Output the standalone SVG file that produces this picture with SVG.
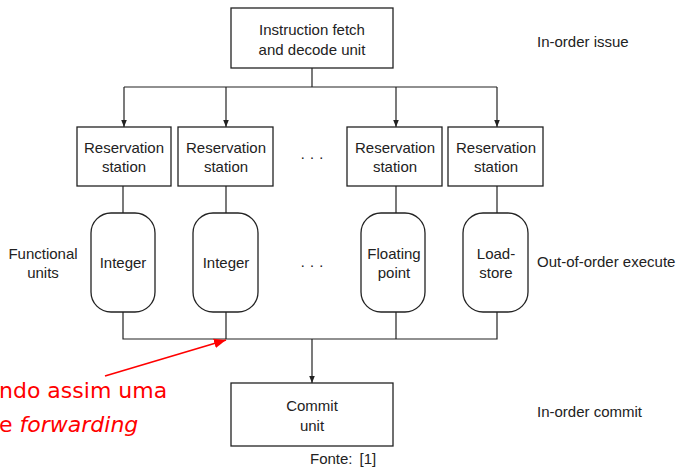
<svg xmlns="http://www.w3.org/2000/svg" width="684" height="467" viewBox="0 0 684 467">
  <style>
    .box { fill: #fff; stroke: #222; stroke-width: 1.3; }
    .wire { fill: none; stroke: #222; stroke-width: 1.2; }
    .t { font-family: "Liberation Sans", Arial, sans-serif; font-size: 15px; fill: #222; text-anchor: middle; }
    .lbl { font-family: "Liberation Sans", Arial, sans-serif; font-size: 15px; fill: #222; }
    .red { font-family: "DejaVu Sans", "Liberation Sans", sans-serif; font-size: 22px; fill: #f00; }
  </style>
  <defs>
    <marker id="arr" viewBox="0 0 10 10" refX="10" refY="5" markerWidth="7" markerHeight="7" orient="auto" markerUnits="userSpaceOnUse">
      <path d="M0,1 L10,5 L0,9 z" fill="#222"/>
    </marker>
    <marker id="arrRed" viewBox="0 0 10 10" refX="10" refY="5" markerWidth="12" markerHeight="12" orient="auto" markerUnits="userSpaceOnUse">
      <path d="M0,1 L10,5 L0,9 z" fill="#f00"/>
    </marker>
  </defs>
  <rect width="684" height="467" fill="#fff"/>

  <g id="connectors">
    <path class="wire" d="M312,68 V87 M124,87 H497"/>
    <path class="wire" d="M124,87 V127" marker-end="url(#arr)"/>
    <path class="wire" d="M226,87 V127" marker-end="url(#arr)"/>
    <path class="wire" d="M396,87 V127" marker-end="url(#arr)"/>
    <path class="wire" d="M497,87 V127" marker-end="url(#arr)"/>
    <path class="wire" d="M123,186 V213 M226,186 V213 M396,186 V213 M497,186 V213"/>
    <path class="wire" d="M123,312 V339 H497 V312 M226,312 V339 M396,312 V339"/>
    <path class="wire" d="M312,339 V383" marker-end="url(#arr)"/>
    <path d="M105,376 L226,340" stroke="#f00" stroke-width="1.7" fill="none" marker-end="url(#arrRed)"/>
  </g>

  <g id="fetch">
    <rect class="box" x="231" y="8" width="162" height="60"/>
    <text class="t" x="312" y="35">Instruction fetch</text>
    <text class="t" x="312" y="55">and decode unit</text>
  </g>

  <g id="rs1">
    <rect class="box" x="77" y="127" width="94" height="59"/>
    <text class="t" x="124" y="153">Reservation</text>
    <text class="t" x="124" y="172">station</text>
  </g>
  <g id="rs2">
    <rect class="box" x="178" y="127" width="95" height="59"/>
    <text class="t" x="226" y="153">Reservation</text>
    <text class="t" x="226" y="172">station</text>
  </g>
  <g id="rs3">
    <rect class="box" x="347" y="127" width="95" height="59"/>
    <text class="t" x="395" y="153">Reservation</text>
    <text class="t" x="395" y="172">station</text>
  </g>
  <g id="rs4">
    <rect class="box" x="448" y="127" width="95" height="59"/>
    <text class="t" x="496" y="153">Reservation</text>
    <text class="t" x="496" y="172">station</text>
  </g>
  <text class="t" x="312" y="162">· · ·</text>

  <g id="fu1">
    <rect class="box" x="91" y="213" width="64" height="99" rx="20" ry="20"/>
    <text class="t" x="123" y="268">Integer</text>
  </g>
  <g id="fu2">
    <rect class="box" x="193" y="213" width="65" height="99" rx="20" ry="20"/>
    <text class="t" x="226" y="268">Integer</text>
  </g>
  <g id="fu3">
    <rect class="box" x="361" y="213" width="64" height="99" rx="20" ry="20"/>
    <text class="t" x="394" y="259">Floating</text>
    <text class="t" x="394" y="278">point</text>
  </g>
  <g id="fu4">
    <rect class="box" x="463" y="213" width="65" height="99" rx="20" ry="20"/>
    <text class="t" x="496" y="259">Load-</text>
    <text class="t" x="496" y="278">store</text>
  </g>
  <text class="t" x="312" y="270">· · ·</text>

  <g id="commit">
    <rect class="box" x="231" y="383" width="162" height="63"/>
    <text class="t" x="312" y="411">Commit</text>
    <text class="t" x="312" y="431">unit</text>
  </g>

  <text class="t" x="43" y="259">Functional</text>
  <text class="t" x="43" y="278">units</text>
  <text class="lbl" x="537" y="47">In-order issue</text>
  <text class="lbl" x="537" y="267">Out-of-order execute</text>
  <text class="lbl" x="537" y="417">In-order commit</text>
  <text class="lbl" x="310" y="464" font-size="16">Fonte:<tspan dx="7">[1]</tspan></text>

  <text class="red" x="-1" y="398">ndo assim uma</text>
  <text class="red" x="-1" y="432">e <tspan font-style="italic">forwarding</tspan></text>
</svg>
